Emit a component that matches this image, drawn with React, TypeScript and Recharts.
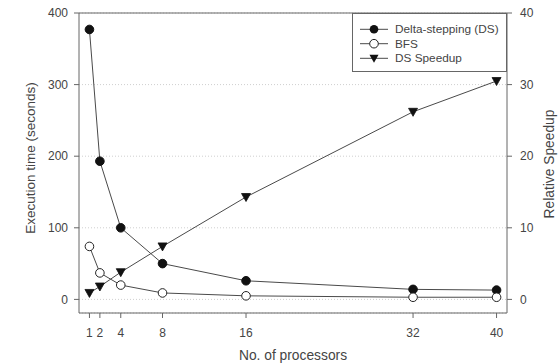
import React from "react";
import { LineChart, Line, XAxis, YAxis, CartesianGrid, Legend, ReferenceLine } from "recharts";

const processors = [1, 2, 4, 8, 16, 32, 40];
const deltaStepping = [377, 193, 100, 50, 26, 14, 13];
const bfs = [74, 37, 20, 9, 5, 3, 3];
const dsSpeedup = [0.9, 1.8, 3.8, 7.4, 14.3, 26.2, 30.5];

const xTicks = [1, 2, 4, 8, 16, 32, 40];
const timeTicks = [0, 100, 200, 300, 400];
const speedupTicks = [0, 10, 20, 30, 40];

const seriesNames = ["Delta-stepping (DS)", "BFS", "DS Speedup"];

const data = processors.map((p, i) => ({
    p,
    ds: deltaStepping[i],
    bfs: bfs[i],
    speedup: dsSpeedup[i]
}));

const font = "'Liberation Sans', Arial, sans-serif";
const textColor = "#444";
const axisColor = "#666";
const lineColor = "#4a4a4a";

const FilledDot = (props: any) => (
    <circle key={props.key} cx={props.cx} cy={props.cy} r={4.3} fill="#111" stroke="#111" strokeWidth={1} />
);

const OpenDot = (props: any) => (
    <circle key={props.key} cx={props.cx} cy={props.cy} r={4.3} fill="#fff" stroke="#222" strokeWidth={1} />
);

const triPath = (cx: number, cy: number) =>
    `M${cx - 4.5},${cy - 3.5} L${cx + 4.5},${cy - 3.5} L${cx},${cy + 4.5} Z`;

const TriangleDot = (props: any) => (
    <path key={props.key} d={triPath(props.cx, props.cy)} fill="#111" stroke="#111" strokeWidth={0.8} />
);

const LegendBox = () => {
    const rows = [15.3, 29.7, 44.3];
    return (
        <div
            style={{
                width: 155,
                height: 59,
                boxSizing: "border-box",
                border: `1px solid ${axisColor}`,
                background: "#fff"
            }}
        >
            <svg width={153} height={57} style={{ display: "block" }}>
                {seriesNames.map((name, i) => (
                    <g key={name}>
                        <line x1={7} x2={35} y1={rows[i]} y2={rows[i]} stroke={lineColor} strokeWidth={1} />
                        {i === 0 && <circle cx={21} cy={rows[i]} r={4.3} fill="#111" />}
                        {i === 1 && <circle cx={21} cy={rows[i]} r={4.3} fill="#fff" stroke="#222" />}
                        {i === 2 && <path d={triPath(21, rows[i])} fill="#111" />}
                        <text
                            x={42}
                            y={rows[i]}
                            dominantBaseline="central"
                            fontFamily={font}
                            fontSize={11.8}
                            fill={textColor}
                        >
                            {name}
                        </text>
                    </g>
                ))}
            </svg>
        </div>
    );
};

export default function App() {
    return (
        <div style={{ position: "absolute", left: 0, top: 0, background: "#fff" }}>
            <LineChart
                width={559}
                height={364}
                data={data}
                margin={{ top: 13, right: 0, bottom: 0, left: 0 }}
            >
                <CartesianGrid
                    yAxisId="time"
                    vertical={false}
                    stroke="#cfcfcf"
                    strokeDasharray="1 2"
                />
                <XAxis
                    dataKey="p"
                    type="number"
                    domain={[0, 41]}
                    ticks={xTicks}
                    interval={0}
                    height={51}
                    stroke={axisColor}
                    tickSize={5}
                    tickMargin={10}
                    tick={{ fill: textColor, fontSize: 12, fontFamily: font }}
                    label={{
                        content: () => (
                            <text x={293} y={355} textAnchor="middle" dominantBaseline="central" fontFamily={font} fontSize={13.8} fill={textColor}>
                                No. of processors
                            </text>
                        )
                    }}
                />
                <YAxis
                    yAxisId="time"
                    orientation="left"
                    domain={[-19, 400]}
                    ticks={timeTicks}
                    interval={0}
                    width={79}
                    stroke={axisColor}
                    tickSize={5}
                    tickMargin={6}
                    tick={{ fill: textColor, fontSize: 12, fontFamily: font }}
                    label={{
                        content: () => (
                            <text x={30} y={158} transform="rotate(-90 30 158)" textAnchor="middle" dominantBaseline="central" fontFamily={font} fontSize={13.5} fill={textColor}>
                                Execution time (seconds)
                            </text>
                        )
                    }}
                />
                <YAxis
                    yAxisId="speed"
                    orientation="right"
                    domain={[-1.9, 40]}
                    ticks={speedupTicks}
                    interval={0}
                    width={52}
                    stroke={axisColor}
                    tickSize={5}
                    tickMargin={8}
                    tick={{ fill: textColor, fontSize: 12, fontFamily: font }}
                    label={{
                        content: () => (
                            <text x={549} y={164} transform="rotate(-90 549 164)" textAnchor="middle" dominantBaseline="central" fontFamily={font} fontSize={13.8} fill={textColor}>
                                Relative Speedup
                            </text>
                        )
                    }}
                />
                <ReferenceLine yAxisId="time" y={400} stroke={axisColor} />
                <Line
                    yAxisId="time"
                    dataKey="ds"
                    name={seriesNames[0]}
                    stroke={lineColor}
                    strokeWidth={1}
                    dot={FilledDot}
                    activeDot={false}
                    isAnimationActive={false}
                />
                <Line
                    yAxisId="time"
                    dataKey="bfs"
                    name={seriesNames[1]}
                    stroke={lineColor}
                    strokeWidth={1}
                    dot={OpenDot}
                    activeDot={false}
                    isAnimationActive={false}
                />
                <Line
                    yAxisId="speed"
                    dataKey="speedup"
                    name={seriesNames[2]}
                    stroke={lineColor}
                    strokeWidth={1}
                    dot={TriangleDot}
                    activeDot={false}
                    isAnimationActive={false}
                />
                <Legend
                    layout="vertical"
                    align="center"
                    verticalAlign="middle"
                    content={LegendBox}
                    wrapperStyle={{ position: "absolute", left: 352, top: 13, width: 155, height: 59 }}
                />
            </LineChart>
        </div>
    );
}
